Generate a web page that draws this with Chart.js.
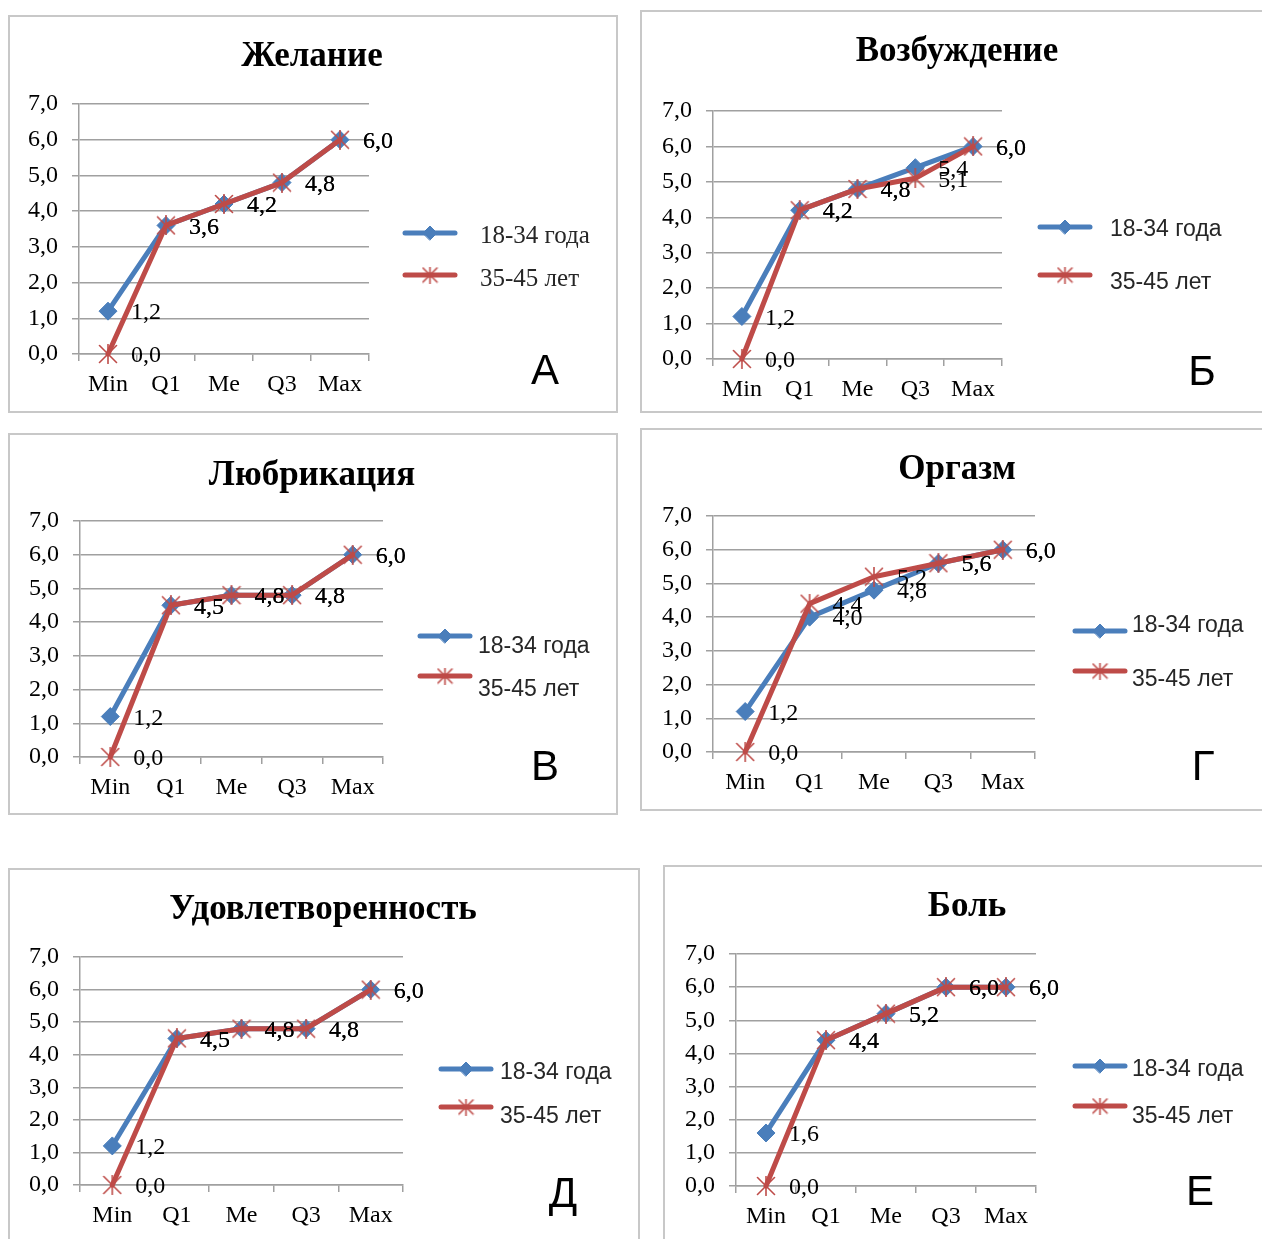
<!DOCTYPE html>
<html>
<head>
<meta charset="utf-8">
<script src="https://cdn.jsdelivr.net/npm/chart.js@4.4.1/dist/chart.umd.min.js"></script>
<style>
  html, body { margin: 0; padding: 0; background: #fff; }
  body { position: relative; width: 1262px; height: 1239px; overflow: hidden; }
  .frame { position: absolute; border: 2px solid #c8c8c8; box-sizing: border-box; }
  canvas.panel { position: absolute; }
</style>
</head>
<body>
<script>
// Quartile summaries (Min, Q1, Me, Q3, Max) of FSFI domain scores by age group
const categories = ['Min', 'Q1', 'Me', 'Q3', 'Max'];
const seriesNames = ['18-34 года', '35-45 лет'];
const yTicks = [0, 1, 2, 3, 4, 5, 6, 7];

const desireYoung = [1.2, 3.6, 4.2, 4.8, 6.0];
const desireOlder = [0.0, 3.6, 4.2, 4.8, 6.0];

const arousalYoung = [1.2, 4.2, 4.8, 5.4, 6.0];
const arousalOlder = [0.0, 4.2, 4.8, 5.1, 6.0];

const lubricationYoung = [1.2, 4.5, 4.8, 4.8, 6.0];
const lubricationOlder = [0.0, 4.5, 4.8, 4.8, 6.0];

const orgasmYoung = [1.2, 4.0, 4.8, 5.6, 6.0];
const orgasmOlder = [0.0, 4.4, 5.2, 5.6, 6.0];

const satisfactionYoung = [1.2, 4.5, 4.8, 4.8, 6.0];
const satisfactionOlder = [0.0, 4.5, 4.8, 4.8, 6.0];

const painYoung = [1.6, 4.4, 5.2, 6.0, 6.0];
const painOlder = [0.0, 4.4, 5.2, 6.0, 6.0];

const panelTitles = ['Желание', 'Возбуждение', 'Любрикация', 'Оргазм', 'Удовлетворенность', 'Боль'];
const panelLetters = ['А', 'Б', 'В', 'Г', 'Д', 'Е'];
const panelSeries = [
  [desireYoung, desireOlder],
  [arousalYoung, arousalOlder],
  [lubricationYoung, lubricationOlder],
  [orgasmYoung, orgasmOlder],
  [satisfactionYoung, satisfactionOlder],
  [painYoung, painOlder]
];

// Page layout of the six panels (page pixels)
const SERIF = '"Liberation Serif", "Times New Roman", serif';
const SANS = '"Liberation Sans", Arial, sans-serif';
const layouts = [
  { box: { x: 8, y: 15, w: 610, h: 398 }, area: { l: 79, t: 104, r: 369, b: 354 }, title: { x: 312, y: 57 },
    legend: { x1: 405, x2: 455, lineY: [233, 275], tx: 480, textY: [236, 279], font: '25px ' + SERIF }, letter: { x: 545, y: 372 } },
  { box: { x: 640, y: 10, w: 640, h: 403 }, area: { l: 713, t: 111, r: 1002, b: 359 }, title: { x: 957, y: 52 },
    legend: { x1: 1040, x2: 1090, lineY: [227, 275], tx: 1110, textY: [230, 283], font: '23px ' + SANS }, letter: { x: 1202, y: 373 } },
  { box: { x: 8, y: 433, w: 610, h: 382 }, area: { l: 80, t: 521, r: 383, b: 757 }, title: { x: 312, y: 476 },
    legend: { x1: 420, x2: 470, lineY: [636, 676], tx: 478, textY: [647, 690], font: '23px ' + SANS }, letter: { x: 545, y: 768 } },
  { box: { x: 640, y: 428, w: 640, h: 383 }, area: { l: 713, t: 516, r: 1035, b: 752 }, title: { x: 957, y: 470 },
    legend: { x1: 1075, x2: 1125, lineY: [631, 671], tx: 1132, textY: [626, 680], font: '23px ' + SANS }, letter: { x: 1203, y: 768 } },
  { box: { x: 8, y: 868, w: 632, h: 390 }, area: { l: 80, t: 957, r: 403, b: 1185 }, title: { x: 323, y: 910 },
    legend: { x1: 441, x2: 491, lineY: [1069, 1107], tx: 500, textY: [1073, 1117], font: '23px ' + SANS }, letter: { x: 563, y: 1195 } },
  { box: { x: 663, y: 865, w: 620, h: 390 }, area: { l: 736, t: 954, r: 1036, b: 1186 }, title: { x: 967, y: 907 },
    legend: { x1: 1075, x2: 1125, lineY: [1066, 1106], tx: 1132, textY: [1070, 1117], font: '23px ' + SANS }, letter: { x: 1200, y: 1193 } }
];

const BLUE = '#4a7ebb';
const RED = '#be4b48';
const GRID = '#a0a0a0';

function fmt(v) { return v.toFixed(1).replace('.', ','); }

// Excel-style "star" marker: an X crossed by a vertical stroke
function starMarker(color, size) {
  const c = document.createElement('canvas');
  c.width = c.height = size;
  const g = c.getContext('2d');
  const m = size / 2, r = size / 2 - 1.5;
  g.strokeStyle = color;
  g.lineWidth = 1.6;
  g.lineCap = 'round';
  g.beginPath();
  g.moveTo(m - r, m - r); g.lineTo(m + r, m + r);
  g.moveTo(m + r, m - r); g.lineTo(m - r, m + r);
  g.moveTo(m, m - r - 1); g.lineTo(m, m + r + 1);
  g.stroke();
  return c;
}

const redStar = starMarker(RED, 20);
const redStarSmall = starMarker(RED, 17);

// Value labels to the right of every point
const valueLabels = {
  id: 'valueLabels',
  afterDatasetsDraw(chart) {
    const ctx = chart.ctx;
    ctx.save();
    ctx.font = '24px ' + SERIF;
    ctx.fillStyle = '#000';
    ctx.textAlign = 'left';
    ctx.textBaseline = 'middle';
    chart.data.datasets.forEach((ds, i) => {
      chart.getDatasetMeta(i).data.forEach((pt, j) => {
        ctx.fillText(fmt(ds.data[j]), pt.x + 23, pt.y + 2);
      });
    });
    ctx.restore();
  }
};

// Panel heading, legend and panel letter
function makeSideDecor(lay, title, letter) {
  const ox = lay.box.x, oy = lay.box.y;
  return {
    id: 'sideDecor',
    afterDraw(chart) {
      const ctx = chart.ctx;
      const lg = lay.legend;
      ctx.save();
      ctx.fillStyle = '#000';
      ctx.font = 'bold 35px ' + SERIF;
      ctx.textAlign = 'center';
      ctx.textBaseline = 'middle';
      ctx.fillText(title, lay.title.x - ox, lay.title.y - oy);

      chart.data.datasets.forEach((ds, i) => {
        const y = lg.lineY[i] - oy;
        ctx.strokeStyle = ds.borderColor;
        ctx.lineWidth = 5;
        ctx.lineCap = 'round';
        ctx.beginPath();
        ctx.moveTo(lg.x1 - ox, y);
        ctx.lineTo(lg.x2 - ox, y);
        ctx.stroke();
        const mx = (lg.x1 + lg.x2) / 2 - ox;
        if (i === 0) {
          ctx.fillStyle = ds.borderColor;
          ctx.lineWidth = 1;
          Chart.helpers.drawPoint(ctx, { pointStyle: 'rectRot', radius: 7, rotation: 0, borderWidth: 1 }, mx, y);
        } else {
          ctx.drawImage(redStarSmall, mx - redStarSmall.width / 2, y - redStarSmall.height / 2);
        }
        ctx.fillStyle = '#262626';
        ctx.font = lg.font;
        ctx.textAlign = 'left';
        ctx.textBaseline = 'middle';
        ctx.fillText(ds.label, lg.tx - ox, lg.textY[i] - oy);
      });

      ctx.fillStyle = '#000';
      ctx.font = '42px ' + SANS;
      ctx.textAlign = 'center';
      ctx.textBaseline = 'middle';
      ctx.fillText(letter, lay.letter.x - ox, lay.letter.y - oy);
      ctx.restore();
    }
  };
}

// Draw each panel
panelTitles.forEach((title, p) => {
  const lay = layouts[p];
  const box = lay.box;

  const frame = document.createElement('div');
  frame.className = 'frame';
  Object.assign(frame.style, { left: box.x + 'px', top: box.y + 'px', width: box.w + 'px', height: box.h + 'px' });
  document.body.appendChild(frame);

  const canvas = document.createElement('canvas');
  canvas.className = 'panel';
  canvas.width = box.w;
  canvas.height = box.h;
  canvas.style.left = box.x + 'px';
  canvas.style.top = box.y + 'px';
  document.body.appendChild(canvas);

  const L = lay.area.l - box.x, T = lay.area.t - box.y;
  const R = lay.area.r - box.x, B = lay.area.b - box.y;

  const [young, older] = panelSeries[p];

  new Chart(canvas, {
    type: 'line',
    data: {
      labels: categories,
      datasets: [
        {
          label: seriesNames[0], data: young, order: 1, clip: false,
          borderColor: BLUE, backgroundColor: BLUE, borderWidth: 5,
          borderJoinStyle: 'round', borderCapStyle: 'round', tension: 0, fill: false,
          pointStyle: 'rectRot', pointRadius: 9, pointBorderWidth: 1,
          pointBackgroundColor: BLUE, pointBorderColor: BLUE
        },
        {
          label: seriesNames[1], data: older, order: 0, clip: false,
          borderColor: RED, backgroundColor: RED, borderWidth: 5,
          borderJoinStyle: 'round', borderCapStyle: 'round', tension: 0, fill: false,
          pointStyle: redStar, pointRadius: 10
        }
      ]
    },
    options: {
      responsive: false,
      animation: false,
      devicePixelRatio: 1,
      layout: { padding: { left: 0, top: T, right: box.w - R, bottom: 0 } },
      plugins: {
        legend: { display: false },
        tooltip: { enabled: false },
        title: { display: false }
      },
      scales: {
        x: {
          type: 'category', offset: true,
          grid: { offset: true, drawOnChartArea: false, drawTicks: true, tickLength: 7, color: GRID, lineWidth: 1.5 },
          border: { display: true, color: GRID, width: 1.5 },
          ticks: { color: '#000', font: { family: SERIF, size: 24 }, padding: 9, maxRotation: 0, autoSkip: false },
          afterFit(s) { s.height = box.h - B; }
        },
        y: {
          min: yTicks[0], max: yTicks[yTicks.length - 1],
          afterBuildTicks(s) { s.ticks = yTicks.map(v => ({ value: v })); },
          grid: { color: GRID, lineWidth: 1.5, drawTicks: true, tickLength: 7 },
          border: { display: true, color: GRID, width: 1.5 },
          ticks: { color: '#000', font: { family: SERIF, size: 24 }, padding: 14, callback: v => fmt(v) },
          afterFit(s) { s.width = L; }
        }
      }
    },
    plugins: [valueLabels, makeSideDecor(lay, title, panelLetters[p])]
  });
});
</script>
</body>
</html>
